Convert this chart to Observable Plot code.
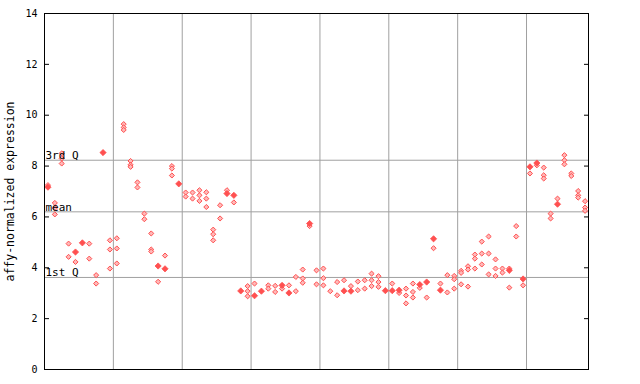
<!DOCTYPE html>
<html>
<head>
<meta charset="utf-8">
<script src="https://cdn.jsdelivr.net/npm/d3@7"></script>
<script src="https://cdn.jsdelivr.net/npm/@observablehq/plot@0.6"></script>
<style>
  html, body { margin: 0; padding: 0; background: #fff; }
  #chart svg { display: block; }
</style>
</head>
<body>
<div id="chart"></div>
<script>
// Hollow (replicate) markers per sample column
const hollowValues = [
  [7.25], [6.55, 6.35, 6.1], [8.5, 8.3, 8.1], [4.95, 4.43], [4.23], [], [4.95, 4.36], [3.71, 3.38], [], [5.08, 4.72, 3.97],
  [5.16, 4.76, 4.17], [9.65, 9.52, 9.42], [8.2, 8.05, 7.97], [7.36, 7.16], [6.13, 5.91], [5.35, 4.72, 4.64], [3.45], [4.48], [8.0, 7.9, 7.63], [],
  [6.96, 6.8], [6.96, 6.72], [7.05, 6.85, 6.63], [6.97, 6.72, 6.39], [5.5, 5.32, 5.08], [6.46, 5.94], [7.05], [6.57], [], [3.28, 3.08, 2.88],
  [3.38], [], [3.31, 3.18], [3.29, 3.05], [3.18], [3.31], [3.64, 3.08], [3.93, 3.58, 3.41], [5.64], [3.9, 3.35],
  [3.97, 3.59, 3.31], [3.08], [3.44, 2.92], [3.51], [3.28], [3.46, 3.12], [3.51, 3.18], [3.77, 3.51, 3.28], [3.67, 3.44, 3.25], [],
  [3.38], [3.01], [3.18, 2.91, 2.6], [3.38, 3.05, 2.83], [3.21], [2.83], [4.77], [3.38], [3.71, 3.03], [3.68, 3.55, 3.18],
  [3.88, 3.8, 3.35], [4.06, 3.93, 3.26], [4.52, 4.36, 3.97], [5.03, 4.56, 4.13], [5.23, 4.56, 3.74], [4.33, 3.97, 3.68], [3.97, 3.81], [3.97, 3.22], [5.64, 5.23], [3.31],
  [7.71], [8.03], [7.94, 7.64, 7.51], [6.13, 5.94], [6.72], [8.43, 8.23, 8.07], [7.71, 7.61], [7.02, 6.85, 6.76], [6.62, 6.37, 6.24]
];
// Filled (highlighted) markers: sample column index and value
const filledColumns = [0, 4, 5, 8, 16, 17, 19, 26, 27, 28, 30, 31, 34, 35, 38, 43, 44, 49, 50, 51, 54, 55, 56, 57, 67, 69, 70, 71, 74];
const filledValues  = [7.17, 4.62, 4.98, 8.53, 4.07, 3.96, 7.3, 6.92, 6.85, 3.09, 2.9, 3.08, 3.31, 3.01, 5.74, 3.09, 3.08, 3.1, 3.1, 3.12, 3.34, 3.44, 5.14, 3.12, 3.9, 3.56, 7.97, 8.12, 6.5];

const groupBoundaries = [10, 20, 30, 40, 50, 60, 70];
const quartileLabels = ["3rd Q", "mean", "1st Q"];
const quartileValues = [8.23, 6.2, 3.62];
const yTicks = [0, 2, 4, 6, 8, 10, 12, 14];
const yLabel = "affy-normalized expression";
const nColumns = hollowValues.length;

const hollow = hollowValues.flatMap((vals, i) => vals.map(v => ({col: i + 0.5, value: v})));
const filled = filledColumns.map((c, k) => ({col: c + 0.5, value: filledValues[k]}));
const quartiles = quartileLabels.map((label, k) => ({label, value: quartileValues[k]}));

const red = "#ff5050";
const font = "DejaVu Sans Mono";

const chart = Plot.plot({
  width: 640,
  height: 384,
  marginLeft: 44,
  marginRight: 52,
  marginTop: 13,
  marginBottom: 15,
  style: {fontFamily: font, fontSize: "10px", background: "white", color: "black"},
  x: {domain: [0, nColumns], axis: null},
  y: {domain: [0, 14], axis: null},
  marks: [
    Plot.ruleX(groupBoundaries, {stroke: "#a0a0a0", strokeWidth: 1}),
    Plot.ruleY(quartiles, {y: "value", stroke: "#a0a0a0", strokeWidth: 1}),
    Plot.dot(hollow, {x: "col", y: "value", symbol: "diamond2", r: 2.3, stroke: red, strokeWidth: 1, fill: "#ffb8b8"}),
    Plot.dot(filled, {x: "col", y: "value", symbol: "diamond2", r: 2.8, fill: red, stroke: red, strokeWidth: 0.8}),
    Plot.text(quartiles, {x: () => 0, y: "value", text: "label", textAnchor: "start", lineAnchor: "bottom", dx: 1, dy: -1, fontSize: 11, fontFamily: font, fill: "black"}),
    Plot.frame({stroke: "black", strokeWidth: 1}),
    Plot.axisY(yTicks, {anchor: "left", label: null, tickSize: -5, tickPadding: 12, fontSize: 10, fontFamily: font, stroke: "black", fill: "black"}),
    Plot.axisY(yTicks, {anchor: "right", label: null, tickSize: -5, tickFormat: () => "", stroke: "black"}),
    Plot.text([yLabel], {frameAnchor: "left", textAnchor: "middle", lineAnchor: "middle", rotate: -90, dx: -34, fontSize: 11.5, fontFamily: font, fill: "black"})
  ]
});
document.getElementById("chart").appendChild(chart);
</script>
</body>
</html>
